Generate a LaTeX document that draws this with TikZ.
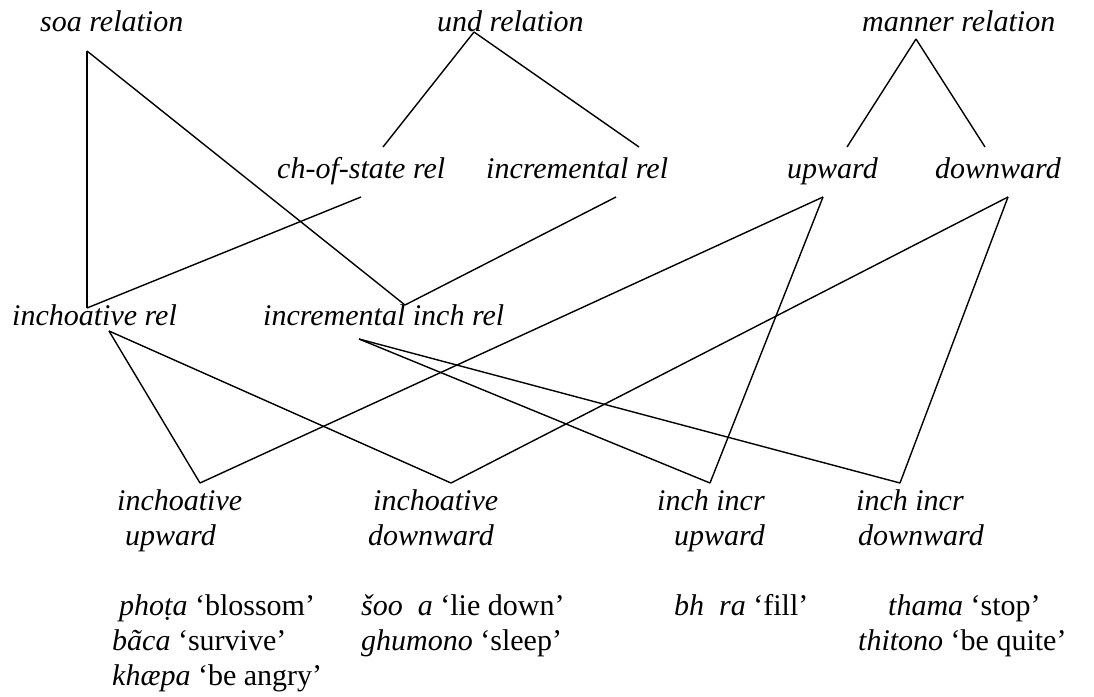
\documentclass[tikz,border=0pt]{standalone}
\usepackage{fontspec}
\setmainfont{Liberation Serif}
\begin{document}
\begin{tikzpicture}[x=1pt,y=-1pt,
  lbl/.style={anchor=base west,inner sep=0pt,font=\fontsize{30}{36}\selectfont\itshape},
  ex/.style={anchor=base west,inner sep=0pt,font=\fontsize{30}{36}\selectfont},
  link/.style={line width=1.4pt,line join=miter}]
\useasboundingbox (0,0) rectangle (1094,696);
% labels
\node[lbl] (soa) at (40,31) {soa relation};
\node[lbl] (und) at (437,31) {und relation};
\node[lbl] (man) at (862,31) {manner relation};
\node[lbl] (cos) at (277,178) {ch-of-state rel};
\node[lbl] (incr) at (486,178) {incremental rel};
\node[lbl] (up) at (787,178) {upward};
\node[lbl] (dn) at (935,178) {downward};
\node[lbl] (inch) at (12,325) {inchoative rel};
\node[lbl] (incinc) at (263,325) {incremental inch rel};
\node[lbl] (iua) at (117,510) {inchoative};
\node[lbl] (iub) at (125,545) {upward};
\node[lbl] (ida) at (373,510) {inchoative};
\node[lbl] (idb) at (368,545) {downward};
\node[lbl] (iiua) at (657,510) {inch incr};
\node[lbl] (iiub) at (674,545) {upward};
\node[lbl] (iida) at (856,510) {inch incr};
\node[lbl] (iidb) at (858,545) {downward};
% examples
\node[ex] (e1) at (119,615) {\textit{phoṭa} ‘blossom’};
\node[ex] (e2) at (112,650) {\textit{bãca} ‘survive’};
\node[ex] (e3) at (112,685) {\textit{khæpa} ‘be angry’};
\node[ex] (e4) at (361,615) {\textit{šoo\ \ a} ‘lie down’};
\node[ex] (e5) at (361,650) {\textit{ghumono} ‘sleep’};
\node[ex] (e6) at (674,615) {\textit{bh\ \ ra} ‘fill’};
\node[ex] (e7) at (888,615) {\textit{thama} ‘stop’};
\node[ex] (e8) at (858,650) {\textit{thitono} ‘be quite’};
% connector end points
\coordinate (soaB) at (87,51);
\coordinate (inchT) at (87,308);
\coordinate (inchB) at (109,331);
\coordinate (incincT) at (405,305);
\coordinate (incincB) at (359,339);
\coordinate (undB) at (474,32);
\coordinate (cosT) at (383,147);
\coordinate (cosB) at (361,197);
\coordinate (incrT) at (639,147);
\coordinate (incrB) at (616,197);
\coordinate (manB) at (916,39);
\coordinate (upT) at (847,147);
\coordinate (upB) at (823,197);
\coordinate (dnT) at (985,147);
\coordinate (dnB) at (1008,197);
\coordinate (iuT) at (200,483);
\coordinate (idT) at (451,483);
\coordinate (iiuT) at (710,483);
\coordinate (iidT) at (900,483);
% connectors
\draw[link] (soaB) -- (inchT);
\draw[link] (soaB) -- (incincT);
\draw[link] (undB) -- (cosT);
\draw[link] (undB) -- (incrT);
\draw[link] (manB) -- (upT);
\draw[link] (manB) -- (dnT);
\draw[link] (cosB) -- (inchT);
\draw[link] (incrB) -- (incincT);
\draw[link] (inchB) -- (iuT);
\draw[link] (inchB) -- (idT);
\draw[link] (incincB) -- (iiuT);
\draw[link] (incincB) -- (iidT);
\draw[link] (upB) -- (iuT);
\draw[link] (upB) -- (iiuT);
\draw[link] (dnB) -- (idT);
\draw[link] (dnB) -- (iidT);
\end{tikzpicture}
\end{document}
